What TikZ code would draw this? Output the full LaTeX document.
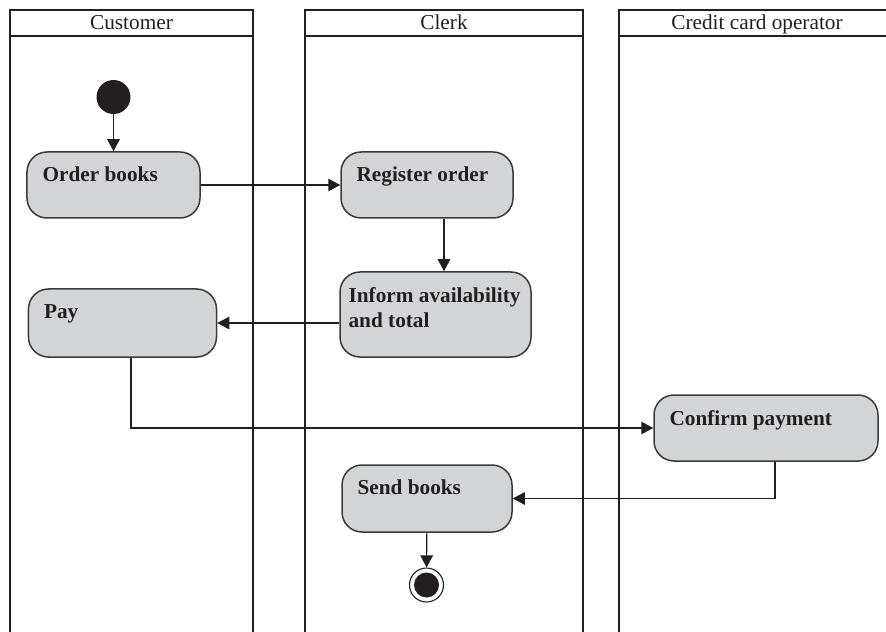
\documentclass[tikz,border=0pt]{standalone}
\usepackage{fontspec}
\setmainfont{Liberation Serif}
\usepackage{xcolor}
\usepackage{tikz}
\usetikzlibrary{arrows.meta}
\definecolor{ink}{HTML}{231F20}
\definecolor{actfill}{HTML}{D3D4D6}
\definecolor{actline}{HTML}{3A3A3A}
\tikzset{
  lane/.style={draw=ink, line width=0.4mm},
  head/.style={text=ink, anchor=base, inner sep=0pt, font=\fontsize{12.1}{14.5}\selectfont},
  act/.style={draw=actline, fill=actfill, line width=0.3mm, rounded corners=4mm, inner sep=0pt},
  acttext/.style={anchor=north west, align=left, inner sep=0pt, text=ink,
    font=\fontsize{12.1}{14.7}\selectfont\bfseries, xshift=3.2mm, yshift=-3.1mm},
  flow/.style={draw=ink, line width=0.22mm, -{Triangle[length=2.4mm,width=2.5mm]}},
  init/.style={circle, fill=ink, minimum size=6.8mm, inner sep=0pt},
  finalo/.style={circle, draw=ink, fill=white, line width=0.22mm, minimum size=6.8mm, inner sep=0pt},
  finali/.style={circle, fill=ink, minimum size=5mm, inner sep=0pt},
}

\begin{document}
\begin{tikzpicture}[x=0.2mm, y=-0.2mm]
  \useasboundingbox (0,0) rectangle (886,632);
  \clip (0,0) rectangle (886,632);

  % swimlanes
  \foreach \l/\r/\who [count=\i] in {10/253/Customer, 305/583/Clerk, 619/895/Credit card operator} {
    \draw[lane] (\l,10) rectangle (\r,660);
    \draw[lane] (\l,36) -- (\r,36);
    \node[head] (lane\i) at ({(\l+\r)/2},30) {\who};
  }

  % actions
  \node[init] (begin) at (113.5,97) {};
  \node[act, minimum width=34.6mm, minimum height=13.2mm,
    label={[acttext]north west:Order books}] (order) at (113.5,185) {};
  \node[act, minimum width=34.4mm, minimum height=13.2mm,
    label={[acttext]north west:Register order}] (register) at (427,185) {};
  \node[act, minimum width=38.2mm, minimum height=17mm,
    label={[acttext,xshift=-1.4mm]north west:Inform availability\\and total}] (inform) at (435.5,314.5) {};
  \node[act, minimum width=37.6mm, minimum height=13.6mm,
    label={[acttext]north west:Pay}] (pay) at (122.5,323) {};
  \node[act, minimum width=44.8mm, minimum height=13.2mm,
    label={[acttext]north west:Confirm payment}] (confirm) at (766,428) {};
  \node[act, minimum width=34mm, minimum height=13.4mm,
    label={[acttext]north west:Send books}] (send) at (427,498.5) {};
  \node[finalo] (finish) at (426.5,585) {};
  \node[finali] (finishdot) at (finish) {};

  % control flow
  \coordinate (drop) at ([xshift=3.4mm]register.south);
  \draw[flow] (begin) -- (order);
  \draw[flow] (order) -- (register);
  \draw[flow] (drop) -- (drop |- inform.north);
  \draw[flow] (inform.west |- pay.east) -- (pay.east);
  \draw[flow] ([xshift=1.7mm]pay.south) |- (confirm.west);
  \draw[flow] ([xshift=1.8mm]confirm.south) |- (send.east);
  \draw[flow] (send) -- (finish);
\end{tikzpicture}
\end{document}
